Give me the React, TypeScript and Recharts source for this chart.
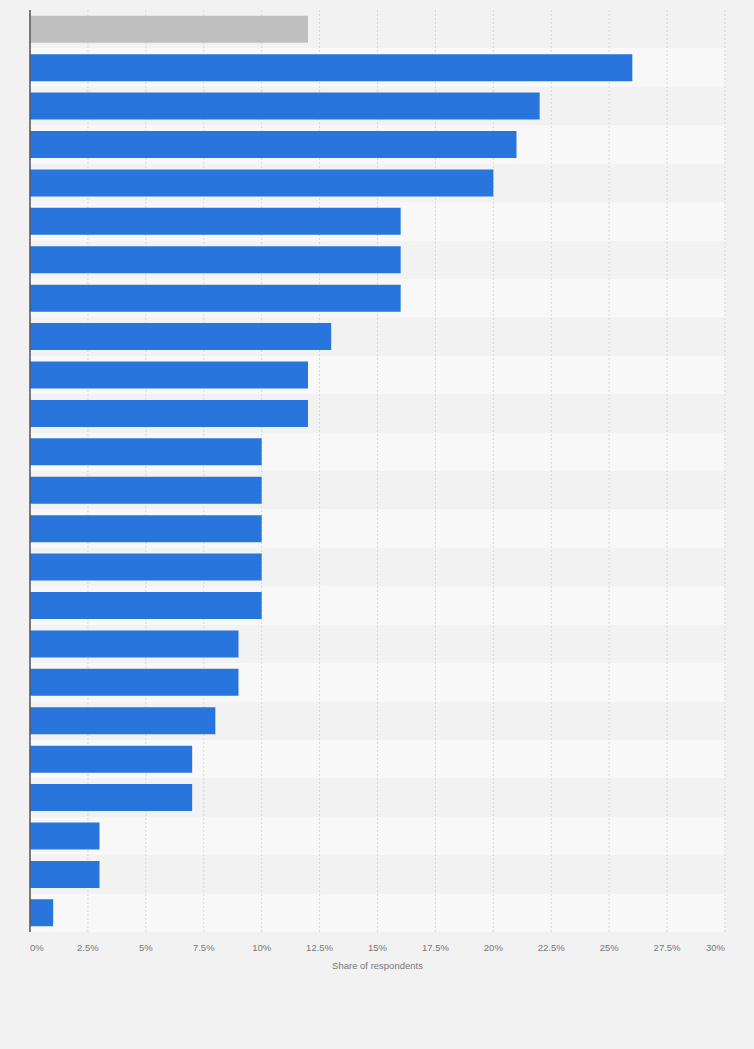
import { BarChart, Bar, XAxis, YAxis, CartesianGrid, Cell, ReferenceLine } from "recharts";

// category labels are not shown in the picture, so rows get plain ids
const categories = [
  "r1", "r2", "r3", "r4", "r5", "r6", "r7", "r8", "r9", "r10", "r11", "r12",
  "r13", "r14", "r15", "r16", "r17", "r18", "r19", "r20", "r21", "r22", "r23", "r24",
];
const shares = [12, 26, 22, 21, 20, 16, 16, 16, 13, 12, 12, 10, 10, 10, 10, 10, 9, 9, 8, 7, 7, 3, 3, 1];
const xTicks = [0, 2.5, 5, 7.5, 10, 12.5, 15, 17.5, 20, 22.5, 25, 27.5, 30];

const data = categories.map((name, i) => ({ name, value: shares[i] }));

const PercentTick = (props: any) => {
  const { x, y, payload, index } = props;
  let anchor: "start" | "middle" | "end" = "middle";
  if (index === 0) anchor = "start";
  if (index === xTicks.length - 1) anchor = "end";
  return (
    <text x={x} y={y + 11} textAnchor={anchor} fontSize={9.5} fill="#777" fontFamily="Liberation Sans, Arial, sans-serif">
      {`${payload.value}%`}
    </text>
  );
};

// one stripe per category row
const rowBounds = ({ offset }: any) =>
  categories.map((_, i) => offset.top + (i * offset.height) / categories.length);

export default function App() {
  return (
    <div style={{ position: "absolute", left: 0, top: 0, width: 754, height: 1049, background: "#f2f2f2" }}>
      <BarChart
        width={754}
        height={1049}
        data={data}
        layout="vertical"
        margin={{ top: 10, right: 29, left: 30, bottom: 80 }}
        barCategoryGap="15%"
      >
        <CartesianGrid
          vertical={false}
          stroke="none"
          horizontalCoordinatesGenerator={rowBounds}
          horizontalFill={["#f2f2f2", "#f8f8f8"]}
          fillOpacity={1}
        />
        <CartesianGrid horizontal={false} stroke="#d6d6d6" strokeDasharray="2 2" />
        <XAxis
          type="number"
          domain={[0, 30]}
          ticks={xTicks}
          tick={<PercentTick />}
          tickLine={false}
          axisLine={false}
          interval={0}
          height={37}
          label={{
            value: "Share of respondents",
            position: "insideBottom",
            offset: 0,
            fontSize: 9.5,
            fill: "#777",
            fontFamily: "Liberation Sans, Arial, sans-serif",
          }}
        />
        <YAxis type="category" dataKey="name" width={0} tick={false} tickLine={false} axisLine={false} />
        <Bar dataKey="value" isAnimationActive={false}>
          {data.map((d, i) => (
            <Cell key={d.name} fill={i === 0 ? "#bfbfbf" : "#2876dd"} />
          ))}
        </Bar>
        <ReferenceLine x={0} stroke="#555" strokeWidth={1.5} />
      </BarChart>
    </div>
  );
}
